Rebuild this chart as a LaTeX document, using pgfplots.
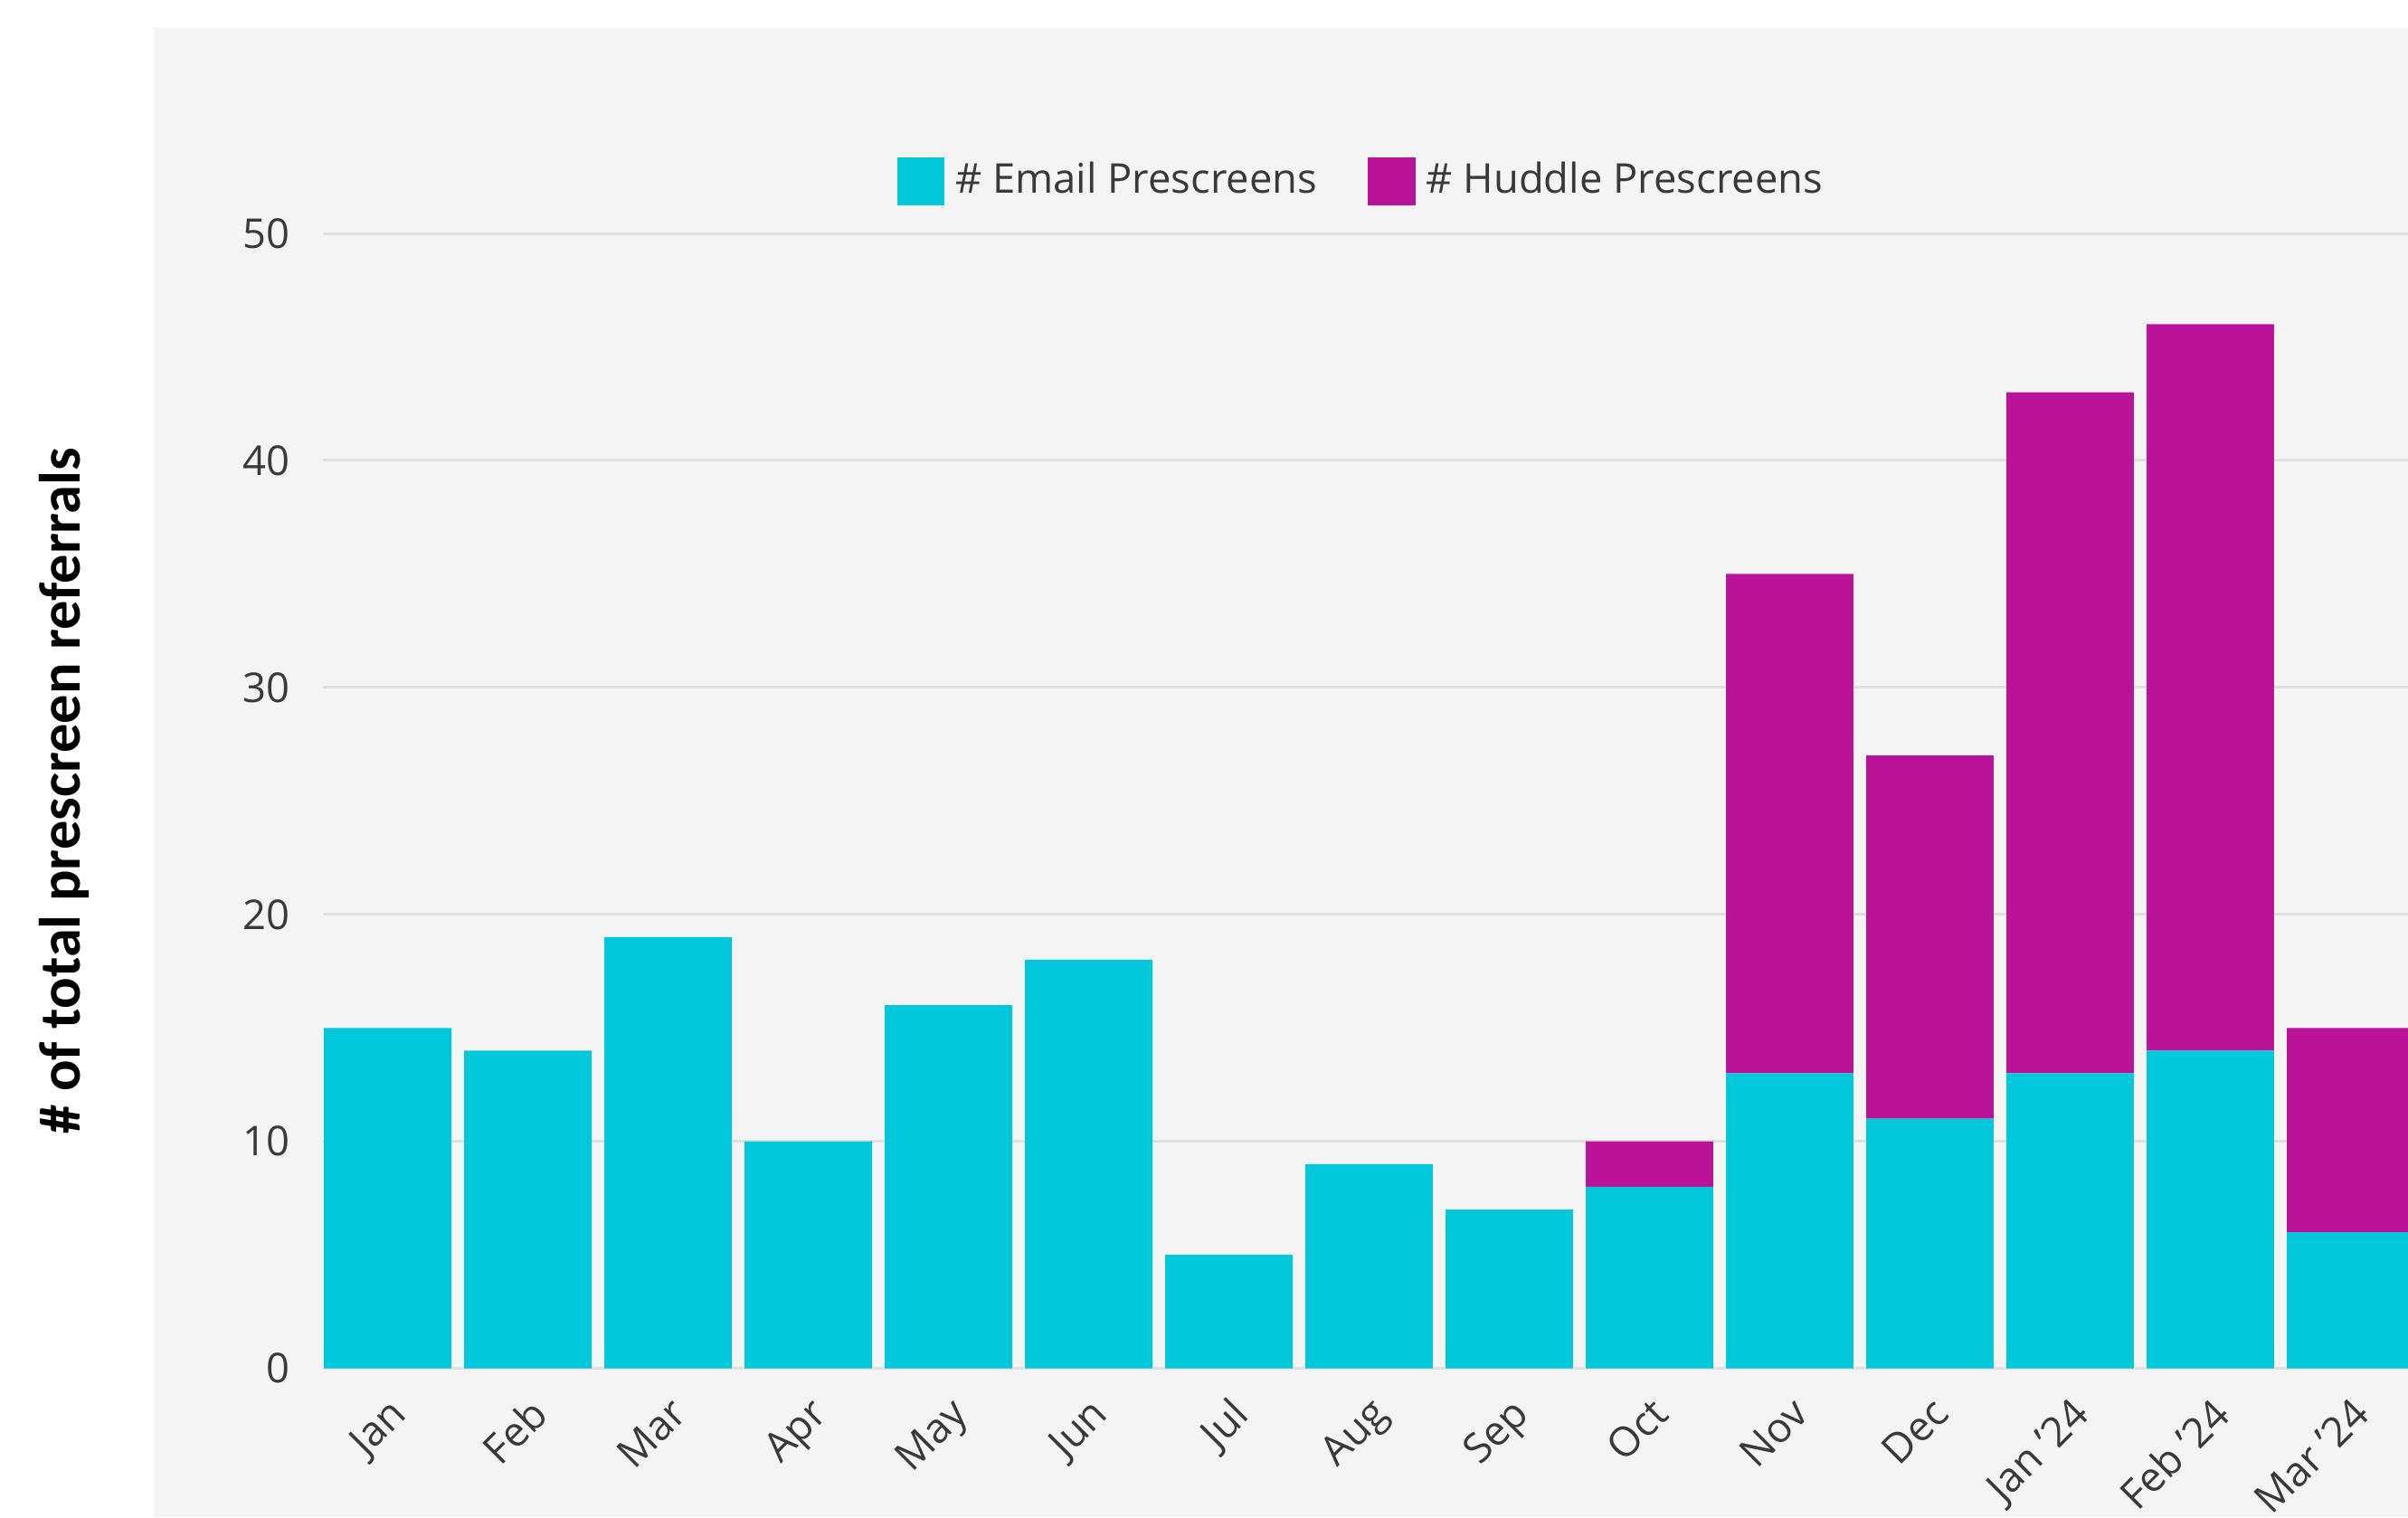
\documentclass[border=0pt]{standalone}
\usepackage{fontspec}
\setmainfont{Open Sans}
\newfontfamily\carlito{Carlito}
\usepackage{pgfplots}
\pgfplotsset{compat=1.18}
\definecolor{panel}{HTML}{F4F4F4}
\definecolor{gridc}{HTML}{E0E0E0}
\definecolor{txt}{HTML}{393939}
\definecolor{emailc}{HTML}{00C8DA}
\definecolor{huddlec}{HTML}{B9139A}
\begin{document}
\begin{tikzpicture}
\path[use as bounding box] (0,0) rectangle (156.8mm,98.8mm);
\clip (0,0) rectangle (156.8mm,98.8mm);
\fill[panel] (10mm,0) rectangle (156.8mm,97.0mm);
\node[rotate=90, font=\carlito\bfseries\fontsize{10.8}{13}\selectfont, text=black] at (4.2mm,47.3mm) {\# of total prescreen referrals};
\begin{axis}[
  at={(21mm,9.7mm)}, anchor=south west,
  scale only axis, width=135.8mm, height=73.9mm,
  ybar stacked, bar width=0.909,
  xmin=-0.465, xmax=14.41, ymin=0, ymax=50,
  xtick=data,
  xticklabels={Jan,Feb,Mar,Apr,May,Jun,Jul,Aug,Sep,Oct,Nov,Dec,Jan '24,Feb '24,Mar '24},
  ytick={0,10,20,30,40,50},
  ymajorgrids, major grid style={draw=gridc, line width=0.5pt},
  axis line style={draw=none}, tick style={draw=none},
  /pgf/number format/assume math mode=true,
  ticklabel style={font=\fontsize{7.6}{9}\selectfont, text=txt},
  yticklabel style={xshift=-0.9mm},
  xticklabel style={rotate=45, anchor=north east},
  legend style={at={(axis description cs:0.5,1)}, anchor=center, yshift=3.4mm,
    draw=none, fill=none, legend columns=-1, font=\fontsize{7.6}{9}\selectfont, text=txt,
    /tikz/every even column/.append style={column sep=2.6mm}},
  legend image code/.code={\fill[#1] (0mm,-1.55mm) rectangle (3.1mm,1.55mm);},
]
\addplot[fill=emailc, draw=none] coordinates {
  (0,15) (1,14) (2,19) (3,10) (4,16) (5,18) (6,5) (7,9) (8,7) (9,8) (10,13) (11,11) (12,13) (13,14) (14,6)};
\addplot[fill=huddlec, draw=none] coordinates {
  (0,0) (1,0) (2,0) (3,0) (4,0) (5,0) (6,0) (7,0) (8,0) (9,2) (10,22) (11,16) (12,30) (13,32) (14,9)};
\legend{\# Email Prescreens, \# Huddle Prescreens}
\end{axis}
\end{tikzpicture}
\end{document}
